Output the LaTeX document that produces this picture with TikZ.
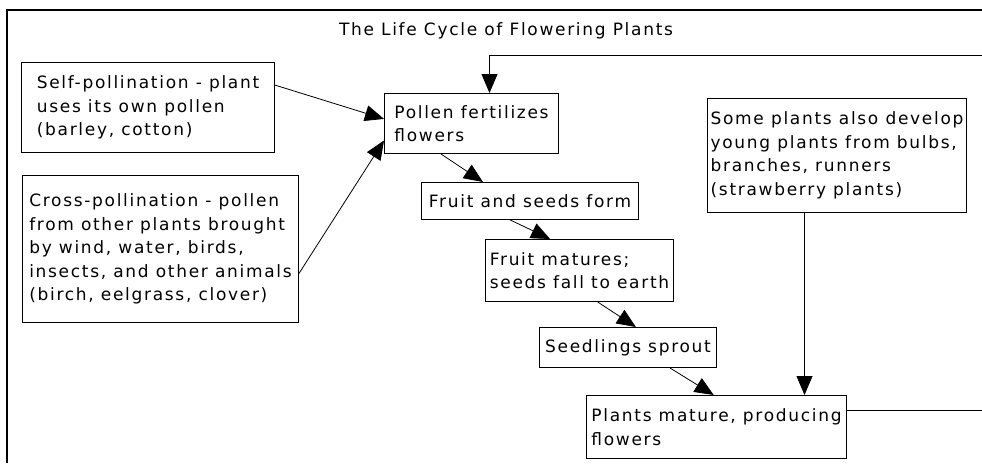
\documentclass[tikz,border=0pt]{standalone}
\usepackage{fontspec}
\setmainfont{DejaVu Sans}[LetterSpace=10]
\usetikzlibrary{arrows.meta,calc}

\tikzset{
  stage/.style={draw, line width=1pt, align=left, inner sep=0pt, anchor=north west,
    font=\fontsize{17}{23.5}\selectfont},
  flow/.style={-{Triangle[length=19pt,width=16pt]}, line width=0.8pt},
}

\begin{document}
\begin{tikzpicture}[x=1pt,y=-1pt]
    \useasboundingbox (0,0) rectangle (982,463);

    % 1) Frame and title
    \draw[line width=1.2pt] (7,463) -- (7,10) -- (982,10);
    \node[font=\fontsize{17}{23.5}\selectfont] (title) at (506,31) {The Life Cycle of Flowering Plants};

    % 2) Pollination boxes on the left
    \node[stage, minimum width=253pt, minimum height=90pt] (self) at (21,62)
      {Self-pollination - plant\\uses its own pollen\\(barley, cotton)};
    \node[stage, minimum width=276pt, minimum height=147pt] (cross) at (22,175)
      {Cross-pollination - pollen\\from other plants brought\\by wind, water, birds,\\insects, and other animals\\(birch, eelgrass, clover)};

    % 3) The stages of the cycle
    \node[stage, minimum width=174pt, minimum height=60pt] (pollen) at (384,93)
      {Pollen fertilizes\\flowers};
    \node[stage, minimum width=217pt, minimum height=37pt] (fseeds) at (421,182)
      {Fruit and seeds form};
    \node[stage, minimum width=188pt, minimum height=62pt] (fmature) at (485,239)
      {Fruit matures;\\seeds fall to earth};
    \node[stage, minimum width=177pt, minimum height=40pt] (sprout) at (539,327)
      {Seedlings sprout};
    \node[stage, minimum width=260pt, minimum height=63pt] (pmature) at (586,395)
      {Plants mature, producing\\flowers};

    % 4) Other way of growing
    \node[stage, minimum width=259pt, minimum height=114pt] (bulbs) at (707,98)
      {Some plants also develop\\young plants from bulbs,\\branches, runners\\(strawberry plants)};

    % 5) Arrows between the boxes
    \draw[flow] (self.10) -- (pollen.177);
    \draw[flow] (cross.350) -- (pollen.191);
    \draw[flow] (pollen.225) -- (fseeds.158);
    \draw[flow] (fseeds.224) -- (fmature.133);
    \draw[flow] (fmature.300) -- (sprout.69);
    \draw[flow] (sprout.334) -- (pmature.95);
    \draw[flow] ($(bulbs.south)+(-32.5,0)$) -- ($(pmature.north)+(88,0)$);

    % 6) Back to the start (runs off the right edge)
    \coordinate (loopout) at (982,0);
    \coordinate (loopin) at (982,55);
    \coordinate (loopstart) at ($(pmature.east)+(0,-16.5)$);
    \draw[line width=0.8pt] (loopstart) -- (loopstart -| loopout);
    \draw[flow] (loopin) -| ($(pollen.north)+(18,0)$);
\end{tikzpicture}
\end{document}
